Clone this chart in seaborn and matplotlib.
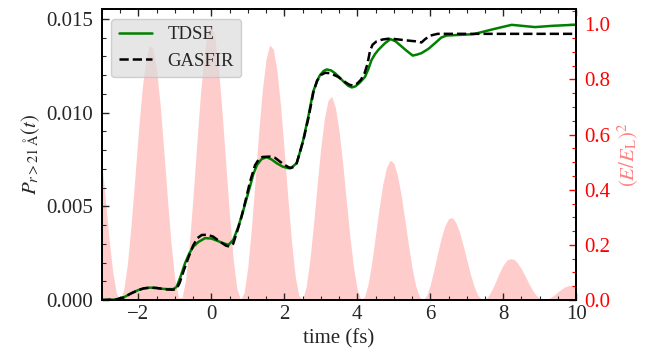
import pandas as pd
import seaborn as sns
import matplotlib
import matplotlib.pyplot as plt
from matplotlib.ticker import MultipleLocator, AutoMinorLocator
matplotlib.use('Agg')

sns.set_theme(style="ticks")
plt.rcParams['font.family'] = ['Liberation Serif', 'DejaVu Serif']
plt.rcParams['mathtext.fontset'] = 'stix'
plt.rcParams['axes.edgecolor'] = 'black'

# TDSE probability
tdse_t = [-3.0, -2.8, -2.6, -2.4, -2.2, -2.0, -1.85, -1.68, -1.5, -1.36, -1.2, -1.04,
          -0.95, -0.85, -0.72, -0.6, -0.49, -0.35, -0.17, 0.0, 0.15, 0.3, 0.47, 0.6,
          0.74, 0.88, 1.01, 1.15, 1.25, 1.38, 1.52, 1.65, 1.79, 1.95, 2.11, 2.22,
          2.34, 2.43, 2.52, 2.66, 2.79, 2.9, 2.98, 3.08, 3.16, 3.28, 3.39, 3.5, 3.62,
          3.75, 3.85, 3.95, 4.07, 4.21, 4.3, 4.39, 4.48, 4.58, 4.76, 4.91, 5.05, 5.17,
          5.35, 5.52, 5.65, 5.76, 5.95, 6.13, 6.3, 6.45, 7.18, 7.73, 8.23, 8.87, 9.37,
          9.92, 10.0]
tdse_p = [0.0, 0.00001, 0.00003, 0.00014, 0.00035, 0.00053, 0.00062, 0.00066, 0.00064,
          0.0006, 0.00058, 0.00058, 0.0007, 0.0012, 0.00196, 0.0025, 0.00285, 0.0031,
          0.0033, 0.00328, 0.00317, 0.00305, 0.00294, 0.0032, 0.0039, 0.0048, 0.0057,
          0.0067, 0.0072, 0.00752, 0.00762, 0.0075, 0.0073, 0.00712, 0.00703, 0.0071,
          0.0073, 0.0079, 0.00854, 0.0098, 0.0111, 0.0117, 0.0120, 0.01222, 0.0123,
          0.01225, 0.0121, 0.0119, 0.01166, 0.01143, 0.01134, 0.0114, 0.0116, 0.0119,
          0.0123, 0.0128, 0.0131, 0.01335, 0.0137, 0.01392, 0.0138, 0.0136, 0.0133,
          0.01304, 0.0131, 0.01317, 0.0134, 0.0137, 0.0140, 0.01411, 0.01418, 0.01445,
          0.01468, 0.01456, 0.01463, 0.01468, 0.01468]

# GASFIR probability
gas_t = [-3.0, -2.6, -2.4, -2.2, -2.0, -1.85, -1.68, -1.5, -1.36, -1.2, -1.04, -0.95,
         -0.87, -0.75, -0.62, -0.5, -0.38, -0.26, -0.1, 0.05, 0.24, 0.4, 0.5, 0.6, 0.7,
         0.83, 0.95, 1.06, 1.2, 1.3, 1.4, 1.6, 1.75, 1.87, 1.97, 2.16, 2.26, 2.34, 2.43,
         2.52, 2.66, 2.8, 2.9, 3.0, 3.12, 3.25, 3.37, 3.48, 3.6, 3.71, 3.8, 3.89, 4.0,
         4.1, 4.2, 4.28, 4.35, 4.42, 4.53, 4.7, 4.9, 5.35, 5.6, 5.76, 5.85, 5.99, 6.2,
         6.45, 10.0]
gas_p = [0.0, 0.00003, 0.00014, 0.00035, 0.00053, 0.00062, 0.00066, 0.00064, 0.0006,
         0.00056, 0.00055, 0.0006, 0.0009, 0.0016, 0.0023, 0.0029, 0.0033, 0.00347,
         0.00348, 0.00338, 0.00311, 0.0029, 0.00285, 0.003, 0.0036, 0.00445, 0.0054,
         0.0063, 0.0072, 0.0075, 0.00763, 0.00765, 0.00758, 0.0074, 0.00726, 0.00703,
         0.0071, 0.0073, 0.0079, 0.0085, 0.0097, 0.0111, 0.0117, 0.0120, 0.01212,
         0.0121, 0.0120, 0.0119, 0.01172, 0.01157, 0.01147, 0.01145, 0.01155, 0.01175,
         0.0121, 0.0126, 0.0133, 0.01362, 0.0138, 0.0139, 0.01395, 0.01385, 0.0138,
         0.01374, 0.0139, 0.0141, 0.0142, 0.0142, 0.0142]

# squared field (E/E_L)^2, sampled every 0.1 fs from -3 to 10
field_t = [round(-3.0 + 0.1 * i, 1) for i in range(131)]
field_e = [0.501, 0.360, 0.220, 0.101, 0.024, 0.000, 0.037, 0.130, 0.270, 0.435,
           0.607, 0.759, 0.870, 0.924, 0.912, 0.837, 0.706, 0.541, 0.364, 0.201,
           0.076, 0.009, 0.009, 0.077, 0.206, 0.376, 0.564, 0.743, 0.888, 0.977,
           0.999, 0.949, 0.835, 0.674, 0.488, 0.306, 0.148, 0.042, 0.000, 0.028,
           0.120, 0.263, 0.434, 0.610, 0.764, 0.874, 0.925, 0.910, 0.832, 0.702,
           0.539, 0.367, 0.210, 0.086, 0.015, 0.003, 0.049, 0.145, 0.274, 0.418,
           0.553, 0.661, 0.725, 0.739, 0.699, 0.614, 0.496, 0.361, 0.228, 0.117,
           0.038, 0.002, 0.011, 0.060, 0.140, 0.237, 0.335, 0.421, 0.481, 0.507,
           0.497, 0.453, 0.382, 0.294, 0.202, 0.118, 0.052, 0.012, 0.000, 0.016,
           0.055, 0.110, 0.169, 0.225, 0.269, 0.295, 0.299, 0.282, 0.247, 0.199,
           0.146, 0.094, 0.050, 0.018, 0.002, 0.002, 0.016, 0.040, 0.070, 0.101,
           0.127, 0.145, 0.150, 0.147, 0.133, 0.112, 0.087, 0.060, 0.036, 0.017,
           0.005, 0.000, 0.003, 0.009, 0.019, 0.030, 0.040, 0.048, 0.053, 0.054,
           0.052]

tdse_df = pd.DataFrame({'t': tdse_t, 'p': tdse_p})
gas_df = pd.DataFrame({'t': gas_t, 'p': gas_p})

fig = plt.figure(figsize=(6.46, 3.6), dpi=100)
ax = fig.add_axes([0.1576, 0.1667, 0.7344, 0.807])
ax2 = ax.twinx()

ax2.fill_between(field_t, field_e, color='red', alpha=0.2, lw=0)

sns.lineplot(data=tdse_df, x='t', y='p', ax=ax, color='green', lw=1.8, label='TDSE')
sns.lineplot(data=gas_df, x='t', y='p', ax=ax, color='black', lw=1.8,
             linestyle='--', label='GASFIR')

# curves on top of the field
ax.set_zorder(ax2.get_zorder() + 1)
ax.patch.set_visible(False)

ax.set_xlim(-3, 10)
ax.set_ylim(0, 0.0155)
ax2.set_ylim(0, 1.054)

ax.xaxis.set_major_locator(MultipleLocator(2))
ax.xaxis.set_minor_locator(AutoMinorLocator(4))
ax.yaxis.set_major_locator(MultipleLocator(0.005))
ax.yaxis.set_minor_locator(AutoMinorLocator(5))
ax2.yaxis.set_major_locator(MultipleLocator(0.2))
ax2.yaxis.set_minor_locator(AutoMinorLocator(4))

ticks_fontsize = 15
ax.tick_params(which='both', direction='in', top=True, right=False,
               labelsize=ticks_fontsize)
ax.tick_params(axis='y', which='major', pad=6)
ax.tick_params(which='major', length=5, width=1)
ax.tick_params(which='minor', length=3, width=0.8)
ax2.tick_params(which='both', direction='in', colors='red', labelsize=ticks_fontsize)
ax2.tick_params(which='major', length=5, width=1, pad=6)
ax2.tick_params(which='minor', length=3, width=0.8)
for a in (ax, ax2):
    for s in a.spines.values():
        s.set_color('black')
        s.set_linewidth(1.3)

ax.set_xlabel('time (fs)', fontsize=15)
ax.set_ylabel(r'$P_{r>21\,\mathrm{Å}}(t)$', fontsize=15, labelpad=3)
ax2.set_ylabel(r'$(E/E_\mathrm{L})^2$', fontsize=15, color='red', alpha=0.5)

ax.legend(loc='upper left', fontsize=13.5, facecolor='#dcdcdc', framealpha=0.7,
          edgecolor='#c0c0c0', fancybox=True, handlelength=1.8)

fig.savefig('out.png', dpi=100)
